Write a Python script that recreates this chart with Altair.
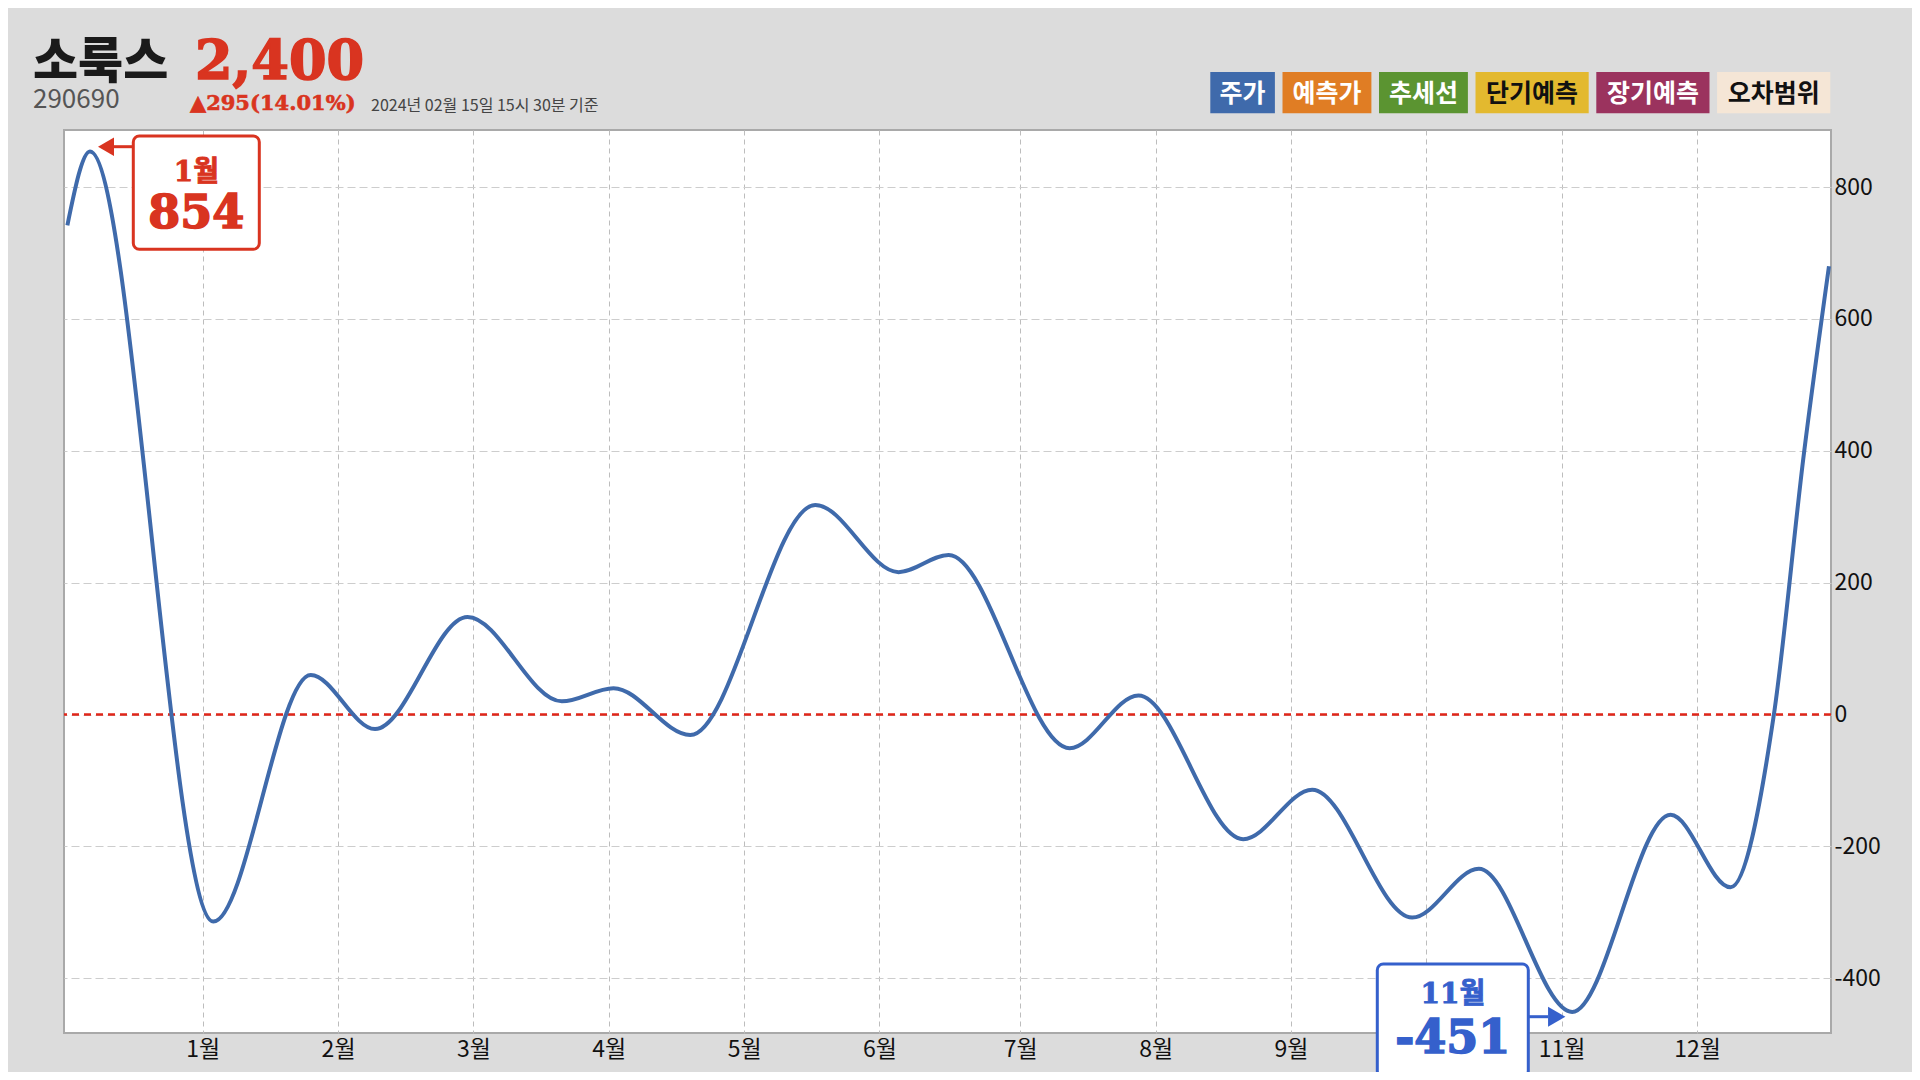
import altair as alt
import pandas as pd

# ---------------- data ----------------
months = [0.0, 0.167, 1.078, 1.798, 2.273, 2.956, 3.653, 4.035, 4.602, 5.526,
          6.141, 6.511, 7.405, 7.913, 8.687, 9.197, 9.936, 10.428, 11.118, 11.845,
          12.288, 12.608, 12.83, 13.015]
values = [742, 854, -314, 60, -22, 148, 20, 40, -31, 318,
          216, 242, -51, 29, -189, -114, -308, -234, -451, -152,
          -262, 0, 396, 680]

tick_months = [1, 2, 3, 4, 5, 6, 7.04, 8.04, 9.04, 10.04, 11.04, 12.04]
y_ticks = [-400, -200, 0, 200, 400, 600, 800]

stock_name = "소룩스"
stock_price = "2,400"
stock_code = "290690"
stock_change = "▲295(14.01%)"
timestamp = "2024년 02월 15일 15시 30분 기준"

legend_labels = ["주가", "예측가", "추세선", "단기예측", "장기예측", "오차범위"]
legend_fills = ["#3f6aab", "#e07d24", "#5b9431", "#e3b92f", "#9b335e", "#f5e6d6"]
legend_text_colors = ["#ffffff", "#ffffff", "#ffffff", "#111111", "#ffffff", "#111111"]

peak_month_label, peak_value = "1월", 854
trough_month_label, trough_value = "11월", -451
hidden_month = 10  # month label covered by the trough callout box

# ---------------- layout ----------------
W, H = 1767, 903
RED = "#d93420"
BLUE = "#3560cc"
LINE = "#3f6aab"
KFONT = "Noto Sans CJK KR"
SERIF = "DejaVu Serif, Noto Sans CJK KR"

df = pd.DataFrame({"m": months, "v": values})

xscale = alt.Scale(domain=[-0.025, 13.03], nice=False, zero=False)
yscale = alt.Scale(domain=[-483, 886.6], nice=False, zero=False)

base = alt.Chart(df)

line = base.mark_line(color=LINE, strokeWidth=4, interpolate="monotone").encode(
    x=alt.X("m:Q", scale=xscale, title=None,
            axis=alt.Axis(values=tick_months,
                          labelExpr=f"round(datum.value) == {hidden_month} ? '' : round(datum.value) + '월'",
                          grid=True, gridDash=[5, 4], gridColor="#bdbdbd", gridWidth=1,
                          ticks=False, domain=False, labelFontSize=23, labelFont=KFONT,
                          labelColor="#111111", labelPadding=5)),
    y=alt.Y("v:Q", scale=yscale, title=None,
            axis=alt.Axis(orient="right", values=y_ticks, labelExpr="'' + datum.value",
                          grid=True, gridDash=[8, 4], gridColor="#cdcdcd", gridWidth=1,
                          ticks=False, domain=False, labelFontSize=23, labelFont=KFONT,
                          labelColor="#111111", labelPadding=3)),
)

zero_rule = alt.Chart(pd.DataFrame({"z": [0]})).mark_rule(
    color="#e0261a", strokeWidth=2.5, strokeDash=[7, 5]
).encode(y=alt.Y("z:Q", scale=yscale))


def one(t):
    return alt.Chart(pd.DataFrame({"t": [t]}))


def text_at(t, x, y, **kw):
    return one(t).mark_text(**kw).encode(text="t:N", x=alt.value(x), y=alt.value(y))


# title block (pixel space relative to plot origin)
titles = [
    text_at(stock_name, -31, -52.5, font=KFONT, fontSize=49, fontWeight=900, color="#1a1a1a",
            align="left", baseline="alphabetic"),
    text_at(stock_price, 131, -51.5, font=SERIF, fontSize=54, fontWeight="bold", color=RED,
            stroke=RED, strokeWidth=1.6, align="left", baseline="alphabetic"),
    text_at(stock_code, -31, -22, font=KFONT, fontSize=26, color="#555555",
            align="left", baseline="alphabetic"),
    text_at(stock_change, 126, -20, font=SERIF, fontSize=21, fontWeight="bold", color=RED,
            stroke=RED, strokeWidth=0.6, align="left", baseline="alphabetic"),
    text_at(timestamp, 307, -19, font=KFONT, fontSize=16, color="#444444",
            align="left", baseline="alphabetic"),
]

# legend boxes, right-aligned to the plot edge
widths = [len(s) * 24.3 + 16 for s in legend_labels]
gap = 7.6
right = W - 0.7
x0s, x1s = [], []
cur = right - (sum(widths) + gap * (len(widths) - 1))
for w in widths:
    x0s.append(cur)
    x1s.append(cur + w)
    cur += w + gap
leg = pd.DataFrame({"label": legend_labels, "fill": legend_fills, "tc": legend_text_colors,
                    "x0": x0s, "x1": x1s, "xc": [(a + b) / 2 for a, b in zip(x0s, x1s)]})
leg_rect = alt.Chart(leg).mark_rect().encode(
    x=alt.X("x0:Q", scale=None, axis=None), x2="x1:Q",
    y=alt.value(-58), y2=alt.value(-16.7),
    color=alt.Color("fill:N", scale=None, legend=None))
leg_text = alt.Chart(leg).mark_text(font=KFONT, fontSize=25, fontWeight="bold",
                                    align="center", baseline="middle").encode(
    x=alt.X("xc:Q", scale=None, axis=None), y=alt.value(-36),
    text="label:N", color=alt.Color("tc:N", scale=None, legend=None))


def callout(month_label, value, color, box, arrow_y, line_x, tri_x, tri_shape, tri_size, cx,
            base1, base2):
    x0, x1, y0, y1 = box
    layers = [
        one("b").mark_rect(fill="white", stroke=color, strokeWidth=3, cornerRadius=6).encode(
            x=alt.value(x0), x2=alt.value(x1), y=alt.value(y0), y2=alt.value(y1)),
        one("r").mark_rule(color=color, strokeWidth=3).encode(
            x=alt.value(line_x[0]), x2=alt.value(line_x[1]), y=alt.value(arrow_y)),
        one("p").mark_point(shape=tri_shape, filled=True, size=tri_size, color=color,
                            opacity=1).encode(x=alt.value(tri_x), y=alt.value(arrow_y)),
        text_at(month_label, cx, base1, font=SERIF, fontSize=28, fontWeight="bold",
                color=color, stroke=color, strokeWidth=0.8, align="center", baseline="alphabetic"),
        text_at(str(value), cx, base2, font=SERIF, fontSize=46, fontWeight="bold",
                color=color, stroke=color, strokeWidth=1.6, align="center", baseline="alphabetic"),
    ]
    return layers


peak_layers = callout(peak_month_label, peak_value, RED, (69.3, 195.3, 6, 119.3), 16.7,
                      (48, 69.3), 42, "triangle-left", 340, 132.3, 50.7, 98.3)
trough_layers = callout(trough_month_label, trough_value, BLUE, (1313.3, 1464.3, 834, 946.7), 886.7,
                        (1464.3, 1484), 1492.7, "triangle-right", 400, 1388.8, 873.3, 923.3)

chart = alt.layer(
    zero_rule, line, *titles, leg_rect, leg_text, *peak_layers, *trough_layers
).properties(
    width=W, height=H,
    autosize=alt.AutoSizeParams(type="none"),
    padding={"left": 56, "top": 122, "right": 81, "bottom": 39},
    background="#dcdcdc",
).configure_view(
    fill="white", stroke="#a9a9a9", strokeWidth=2
)

chart.save("out.html", embed_options={"renderer": "svg", "actions": False})
